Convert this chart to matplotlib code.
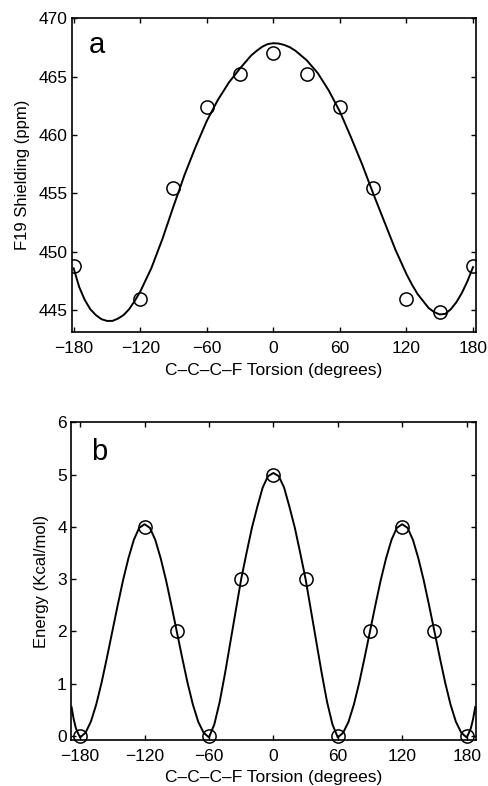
import numpy as np
import matplotlib.pyplot as plt

plt.rcParams['font.family'] = ['Liberation Sans', 'DejaVu Sans']

# panel a: computed shielding (circles) and fitted curve
tors_a = [-180, -120, -90, -60, -30, 0, 30, 60, 90, 120, 150, 180]
shield = [448.8, 446.0, 455.5, 462.4, 465.2, 467.0, 465.2, 462.4, 455.5, 446.0, 444.9, 448.8]

fit_a_x = [-180, -175, -170, -165, -160, -155, -150, -145, -140, -135, -130, -125,
           -120, -110, -100, -90, -80, -70, -60, -50, -40, -30, -20, -15, -10, -5,
           0, 5, 10, 15, 20, 30, 40, 50, 60, 70, 80, 90, 100, 110, 120, 125, 130,
           135, 140, 145, 150, 155, 160, 165, 170, 175, 180]
fit_a_y = [448.6, 447.0, 445.9, 445.1, 444.6, 444.25, 444.1, 444.1, 444.3, 444.6, 445.1, 445.8,
           446.6, 448.6, 451.1, 453.9, 456.6, 459.0, 461.2, 463.0, 464.5, 465.7, 466.8, 467.2,
           467.55, 467.78, 467.85, 467.82, 467.7, 467.5, 467.2, 466.4, 465.3, 463.8, 462.0,
           459.8, 457.5, 455.0, 452.6, 450.2, 448.1, 447.2, 446.4, 445.8, 445.2, 444.85,
           444.65, 444.7, 445.1, 445.7, 446.5, 447.5, 448.7]

# panel b: torsional energy
tors_b = [-180, -120, -90, -60, -30, 0, 30, 60, 90, 120, 150, 180]
energy = [0, 4, 2, 0, 3, 5, 3, 0, 2, 4, 2, 0]

fit_b_x = [-188, -186, -184, -182, -180, -175, -170, -165, -160, -155, -150, -145,
           -140, -135, -130, -125, -120, -115, -110, -105, -100, -95, -90, -85, -80,
           -75, -70, -65, -60, -55, -50, -45, -40, -35, -30, -25, -20, -15, -10, -5,
           0, 5, 10, 15, 20, 25, 30, 35, 40, 45, 50, 55, 60, 65, 70, 75, 80, 85, 90,
           95, 100, 105, 110, 115, 120, 125, 130, 135, 140, 145, 150, 155, 160, 165,
           170, 175, 180, 182, 184, 186, 188]
fit_b_y = [0.55, 0.32, 0.15, 0.05, -0.03, 0.06, 0.27, 0.6, 1.02, 1.5, 2.0, 2.5,
           2.98, 3.4, 3.75, 3.98, 4.05, 3.98, 3.75, 3.4, 2.98, 2.5, 2.0, 1.5, 1.02,
           0.6, 0.27, 0.06, -0.03, 0.22, 0.65, 1.2, 1.8, 2.4, 3.0, 3.5, 3.98, 4.38, 4.75, 4.97,
           5.03, 4.97, 4.75, 4.38, 3.98, 3.5, 3.0, 2.4, 1.8, 1.2, 0.65, 0.22, -0.03, 0.06, 0.27,
           0.6, 1.02, 1.5, 2.0, 2.5, 2.98, 3.4, 3.75, 3.98, 4.05, 3.98, 3.75, 3.4, 2.98, 2.5,
           2.0, 1.5, 1.02, 0.6, 0.27, 0.06, -0.03, 0.05, 0.15, 0.32, 0.55]

xticks = [-180, -120, -60, 0, 60, 120, 180]

fig = plt.figure(figsize=(4.88, 7.86), dpi=100)
ax1 = fig.add_axes([0.1475, 0.5776, 0.8275, 0.3994])
ax2 = fig.add_axes([0.1455, 0.0585, 0.8305, 0.4042])


def style(ax):
    for s in ax.spines.values():
        s.set_linewidth(1.2)
    ax.tick_params(direction='in', top=True, right=True, length=3.5, width=1.0,
                   labelsize=12.5)
    ax.tick_params(axis='y', pad=3)
    ax.tick_params(axis='x', pad=6.5)


ax1.plot(fit_a_x, fit_a_y, color='black', lw=1.4)
ax1.plot(tors_a, shield, 'o', mfc='none', mec='black', ms=9.5, mew=1.1)
ax1.set_xlim(-181.5, 182.5)
ax1.set_ylim(443.15, 470)
ax1.set_xticks(xticks)
ax1.set_yticks([445, 450, 455, 460, 465, 470])
ax1.set_xlabel('C\u2013C\u2013C\u2013F Torsion (degrees)', fontsize=12.5, labelpad=5)
ax1.set_ylabel('F19 Shielding (ppm)', fontsize=12, labelpad=6)
ax1.text(0.042, 0.889, 'a', transform=ax1.transAxes, fontsize=21)
style(ax1)

ax2.plot(fit_b_x, fit_b_y, color='black', lw=1.4)
ax2.plot(tors_b, energy, 'o', mfc='none', mec='black', ms=9.5, mew=1.1, clip_on=False)
ax2.set_xlim(-188.5, 189)
ax2.set_ylim(-0.08, 6)
ax2.set_xticks(xticks)
ax2.set_yticks([0, 1, 2, 3, 4, 5, 6])
ax2.set_xlabel('C\u2013C\u2013C\u2013F Torsion (degrees)', fontsize=12.5, labelpad=4)
ax2.set_ylabel('Energy (Kcal/mol)', fontsize=12, labelpad=6)
ax2.text(0.05, 0.881, 'b', transform=ax2.transAxes, fontsize=21)
style(ax2)

fig.savefig('out.png', dpi=100)
